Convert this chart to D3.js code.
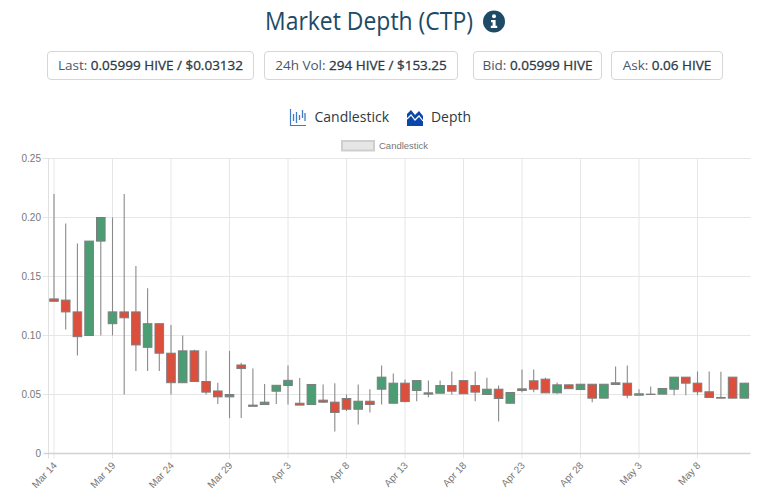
<!DOCTYPE html>
<html><head><meta charset="utf-8">
<script src="https://cdn.jsdelivr.net/npm/d3@7/dist/d3.min.js"></script>
<style>
html,body{margin:0;padding:0;background:#fff;width:768px;height:503px;overflow:hidden}
svg{display:block}
</style></head><body><svg id="c" width="768" height="503"></svg>
<script>
const categories=["Mar 14","Mar 15","Mar 16","Mar 17","Mar 18","Mar 19","Mar 20","Mar 21","Mar 22","Mar 23","Mar 24","Mar 25","Mar 26","Mar 27","Mar 28","Mar 29","Mar 30","Mar 31","Apr 1","Apr 2","Apr 3","Apr 4","Apr 5","Apr 6","Apr 7","Apr 8","Apr 9","Apr 10","Apr 11","Apr 12","Apr 13","Apr 14","Apr 15","Apr 16","Apr 17","Apr 18","Apr 19","Apr 20","Apr 21","Apr 22","Apr 23","Apr 24","Apr 25","Apr 26","Apr 27","Apr 28","Apr 29","Apr 30","May 1","May 2","May 3","May 4","May 5","May 6","May 7","May 8","May 9","May 10","May 11","May 12"];
const opens=[.131,.13,.12,.10,.18,.11,.12,.12,.09,.11,.085,.06,.087,.061,.053,.048,.075,.040,.0415,.0528,.0576,.0426,.0415,.0452,.0435,.0466,.0375,.0443,.0545,.0426,.0596,.0534,.0503,.0511,.0576,.0618,.0576,.05,.0545,.0426,.0534,.0616,.063,.0514,.0582,.0542,.0587,.0469,.0585,.0596,.0494,.05,.0503,.0545,.0647,.0596,.0523,.0475,.0647,.0469];
const closes=[.129,.12,.099,.18,.20,.12,.115,.092,.11,.085,.06,.087,.061,.052,.048,.05,.072,.041,.0435,.0578,.062,.041,.0585,.0435,.0348,.0375,.0443,.0415,.0647,.0596,.044,.0618,.0514,.0576,.0528,.0506,.052,.0545,.0466,.0517,.0548,.0545,.0514,.0582,.0549,.0587,.0469,.0587,.0599,.0494,.0506,.0503,.0551,.0647,.0596,.0523,.0475,.0469,.0469,.0596];
const highs=[.22,.195,.178,.18,.20,.20,.22,.159,.14,.11,.109,.10,.088,.087,.06,.087,.077,.072,.059,.058,.0746,.064,.059,.0585,.0596,.05,.0585,.0545,.0746,.0677,.0627,.0618,.0618,.0618,.0695,.0618,.0695,.0641,.0576,.0517,.0712,.0712,.0641,.0602,.0582,.0587,.0587,.0587,.0737,.0746,.0545,.0568,.0551,.0647,.0647,.0695,.0695,.0692,.0647,.0596];
const lows=[.129,.105,.083,.10,.10,.10,.05,.07,.07,.07,.05,.06,.061,.05,.042,.03,.03,.04,.0415,.042,.0415,.041,.0415,.043,.0186,.036,.0246,.0348,.0415,.0426,.0435,.0443,.0477,.0511,.0497,.0506,.0443,.05,.0271,.0426,.052,.052,.0514,.0506,.0549,.0542,.0435,.0469,.0585,.0469,.0494,.05,.0503,.0494,.0494,.0494,.0475,.0469,.0469,.0469];
const yTicks=[0,.05,.10,.15,.20,.25];
const yLabels=["0","0.05","0.10","0.15","0.20","0.25"];
const statLabels=["Last:","24h Vol:","Bid:","Ask:"];
const statValues=["0.05999 HIVE / $0.03132","294 HIVE / $153.25","0.05999 HIVE","0.06 HIVE"];

const svg=d3.select("#c");
const UI='"Open Sans",sans-serif', CH='"Liberation Sans",Arial,sans-serif';
const x=d3.scalePoint().domain(categories).range([54,744.3]);
const y=d3.scaleLinear().domain([0,.25]).range([453.5,158.5]);
const L=48.5,R=750.5;

// header
svg.append("text").attr("x",265).attr("y",30).attr("textLength",208).attr("lengthAdjust","spacingAndGlyphs")
  .attr("font-family",UI).attr("font-size",25.5).attr("fill","#1e4a66").text("Market Depth (CTP)");
const info=svg.append("g").attr("transform","translate(494,21.5)");
info.append("circle").attr("r",11).attr("fill","#1e4a66");
info.append("circle").attr("cy",-5.2).attr("r",2).attr("fill","#fff");
info.append("path").attr("d","M-3,-1.6H1.6V4.2H3.2V6.6H-3.2V4.2H-1.4V0.8H-3Z").attr("fill","#fff");

// stat boxes
const boxX=[47,264,473,611],boxW=[206,193,128,111];
statLabels.forEach((s,i)=>{
  svg.append("rect").attr("x",boxX[i]+.5).attr("y",51.5).attr("width",boxW[i]).attr("height",28).attr("rx",3.5)
    .attr("fill","#fff").attr("stroke","#d3d7da");
  const t=svg.append("text").attr("x",boxX[i]+boxW[i]/2+.5).attr("y",70).attr("text-anchor","middle")
    .attr("font-family",UI).attr("font-size",13.5);
  t.append("tspan").attr("fill","#48586a").text(s+" ");
  t.append("tspan").attr("fill","#2c3a46").attr("stroke","#2c3a46").attr("stroke-width",0.3).text(statValues[i]);
});

// tabs
const ic1=svg.append("g").attr("transform","translate(290,109)").attr("fill","none");
ic1.append("path").attr("d","M.5,0V16.5H16").attr("stroke","#3f7cc4").attr("stroke-width",1.2);
[[3.5,5,12],[6.5,3,14],[9.5,6,11],[12.5,1,9],[15,4,12]].forEach(a=>ic1.append("path").attr("d",`M${a[0]},${a[1]}V${a[2]}`).attr("stroke","#3f7cc4").attr("stroke-width",1.3));
const ic2=svg.append("g").attr("transform","translate(407,109)");
ic2.append("path").attr("d","M0,5L4,1L8,6L12,2L16,7V17H0Z").attr("fill","#0b47a8");
ic2.append("path").attr("d","M0,10L4,6L8,11L12,7L16,12").attr("fill","none").attr("stroke","#fff").attr("stroke-width",1.2);
svg.append("text").attr("x",314.5).attr("y",122).attr("textLength",74.5).attr("lengthAdjust","spacingAndGlyphs").attr("font-family",UI).attr("font-size",14.5).attr("fill","#2c3a46").text("Candlestick");
svg.append("text").attr("x",431).attr("y",122).attr("textLength",40).attr("lengthAdjust","spacingAndGlyphs").attr("font-family",UI).attr("font-size",14.5).attr("fill","#2c3a46").text("Depth");

// legend
svg.append("rect").attr("x",342).attr("y",141).attr("width",32).attr("height",9.5).attr("fill","#e6e6e6").attr("stroke","#cfcfcf").attr("stroke-width",2);
svg.append("text").attr("x",379).attr("y",148.5).attr("font-family",CH).attr("font-size",9.5).attr("fill","#777").text("Candlestick");

// grid
const gy=svg.append("g").attr("stroke","#e6e6e6").attr("stroke-width",1);
yTicks.forEach(v=>{ if(v>0) gy.append("line").attr("x1",L-6).attr("x2",R).attr("y1",y(v)).attr("y2",y(v)); });
const every5=categories.filter((c,i)=>i%5===0);
every5.forEach(c=>gy.append("line").attr("x1",x(c)).attr("x2",x(c)).attr("y1",y(.25)).attr("y2",y(0)+5));
gy.append("line").attr("x1",L).attr("x2",L).attr("y1",y(.25)).attr("y2",y(0)+5).attr("stroke","#e0e0e0");

// axes
const ax=d3.axisBottom(x).tickValues(every5).tickSize(0).tickPadding(8);
const gx=svg.append("g").attr("transform",`translate(0,${y(0)})`).call(ax);
gx.select(".domain").remove();
gx.selectAll("text").attr("font-family",CH).attr("font-size",10).attr("fill","#777").attr("text-anchor","end")
  .attr("x",0).attr("y",0).attr("dy","0.35em").attr("transform","translate(0.5,10) rotate(-47)");
const ay=d3.axisLeft(y).tickValues(yTicks).tickFormat((d,i)=>yLabels[i]).tickSize(0).tickPadding(7.5);
const gyy=svg.append("g").attr("transform",`translate(${L},0)`).call(ay);
gyy.select(".domain").remove();
gyy.selectAll("text").attr("font-family",CH).attr("font-size",10).attr("fill","#777");
svg.append("line").attr("x1",L-5).attr("x2",R).attr("y1",y(0)).attr("y2",y(0)).attr("stroke","#d2d2d2").attr("stroke-width",1.6);

// candles
const bw=8.6;
const cs=svg.append("g").selectAll("g").data(categories).join("g");
cs.append("line").attr("x1",d=>x(d)).attr("x2",d=>x(d))
  .attr("y1",(d,i)=>y(highs[i])).attr("y2",(d,i)=>y(lows[i])).attr("stroke","#8a8a8a").attr("stroke-width",1.1);
cs.append("rect").attr("x",d=>x(d)-bw/2).attr("width",bw)
  .attr("y",(d,i)=>y(Math.max(opens[i],closes[i])))
  .attr("height",(d,i)=>Math.abs(y(opens[i])-y(closes[i])))
  .attr("fill",(d,i)=>closes[i]>=opens[i]?"#4b9e73":"#dc4f3c")
  .attr("stroke","#7d7d7d").attr("stroke-width",1);
</script></body></html>
